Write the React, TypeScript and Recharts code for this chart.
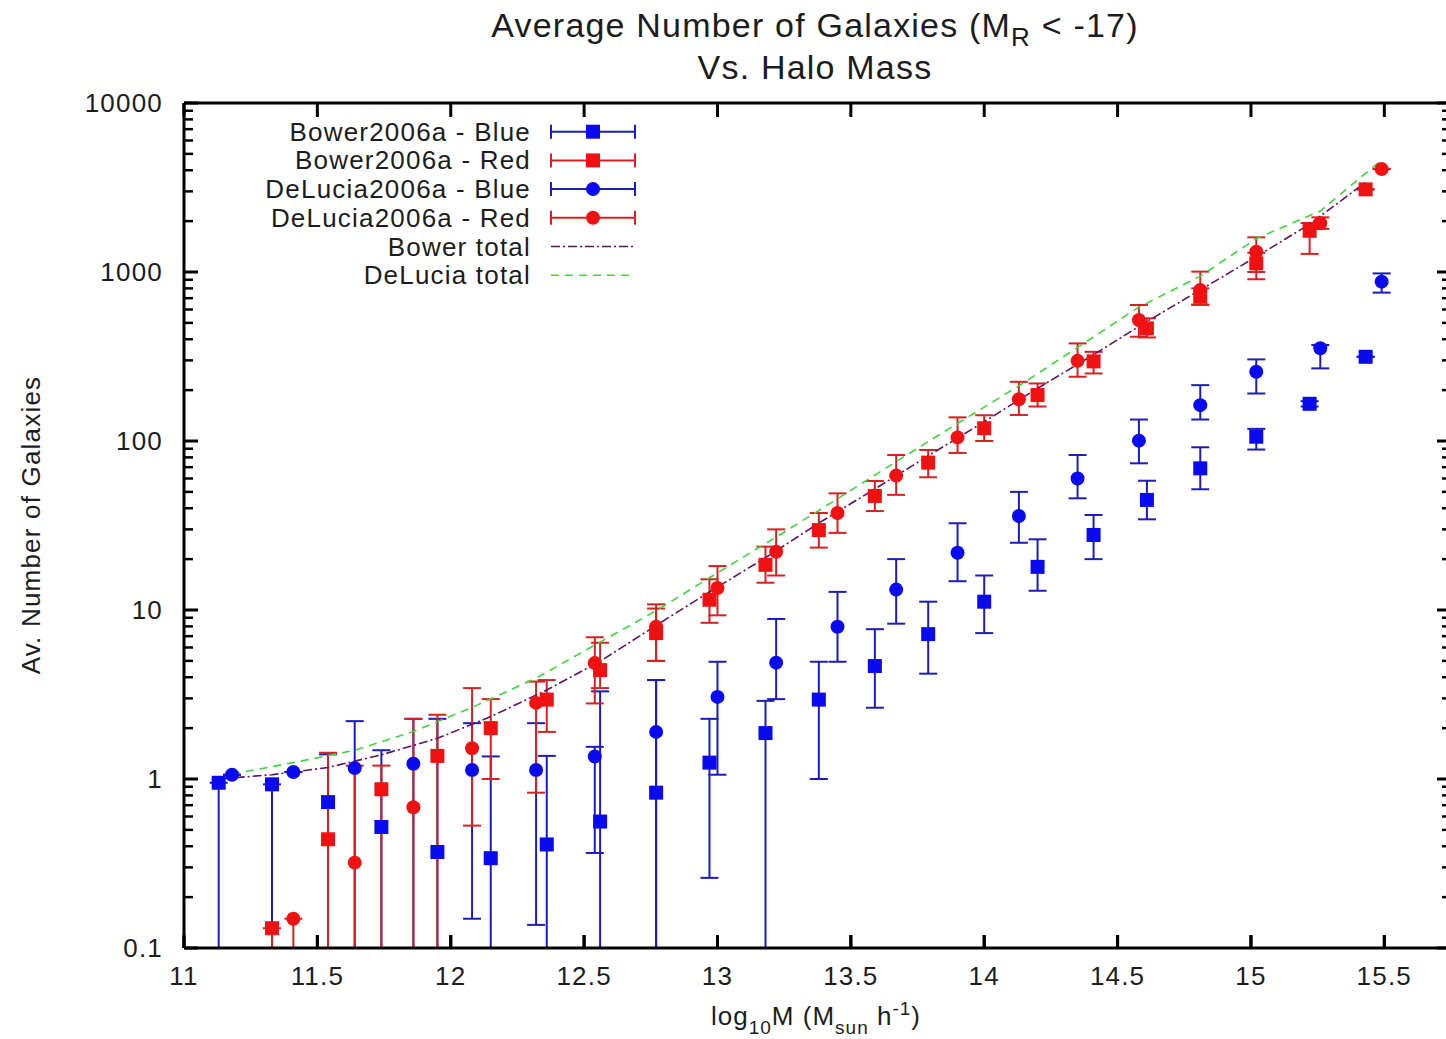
import React from 'react';
import { ComposedChart, Scatter, Line, XAxis, YAxis, ErrorBar, Legend, ReferenceLine } from 'recharts';

// halo mass bins (log10 M) for each model
const bowerX = [11.13, 11.33, 11.54, 11.74, 11.95, 12.15, 12.36, 12.56, 12.77, 12.97, 13.18, 13.38, 13.59, 13.79, 14.0, 14.2, 14.41, 14.61, 14.81, 15.02, 15.22, 15.43];
const delX = [11.18, 11.41, 11.64, 11.86, 12.08, 12.32, 12.54, 12.77, 13.0, 13.22, 13.45, 13.67, 13.9, 14.13, 14.35, 14.58, 14.81, 15.02, 15.26, 15.49];

// Bower2006a (lower ends of 0.1 run off the bottom of the plot)
const bowerBlue = [0.95, 0.93, 0.73, 0.52, 0.37, 0.34, 0.41, 0.56, 0.83, 1.25, 1.87, 2.95, 4.66, 7.2, 11.2, 18, 27.8, 44.8, 68.9, 106, 166, 315];
const bowerBlueLo = [0.1, 0.1, 0.1, 0.1, 0.1, 0.1, 0.1, 0.1, 0.1, 0.26, 0.1, 1.0, 2.64, 4.2, 7.3, 13, 20, 34.4, 51.8, 89, 160, 315];
const bowerBlueHi = [0.95, 0.93, 1.4, 1.48, 2.27, 1.36, 1.37, 3.3, 3.85, 2.27, 2.9, 4.94, 7.7, 11.2, 16, 26.2, 36.5, 58.2, 91.8, 118, 172, 315];
const bowerRed = [null, 0.131, 0.44, 0.87, 1.37, 2.0, 2.95, 4.41, 7.3, 11.5, 18.5, 29.7, 47.3, 74.5, 119, 187, 296, 464, 714, 1125, 1754, 3083];
const bowerRedLo = [null, 0.1, 0.1, 0.1, 0.1, 1.0, 1.9, 3.45, 5.0, 8.4, 14.5, 23.4, 38.5, 61, 100, 160, 251, 410, 640, 906, 1280, 3083];
const bowerRedHi = [null, 0.131, 1.43, 1.2, 2.4, 2.97, 3.85, 6.4, 10.2, 15.2, 23.7, 37.5, 58, 88.5, 142, 219, 337, 532, 800, 1300, 1950, 3083];
const bowerTotal = [1.0, 1.06, 1.17, 1.39, 1.74, 2.34, 3.36, 4.97, 8.1, 12.8, 20.4, 32.7, 52, 81.7, 130, 205, 324, 509, 783, 1231, 1920, 3398];

// DeLucia2006a
const delBlue = [1.06, 1.1, 1.16, 1.23, 1.13, 1.13, 1.36, 1.9, 3.06, 4.88, 7.96, 13.2, 21.8, 36, 60, 100.5, 163, 257, 354, 877];
const delBlueLo = [1.06, 1.1, 0.1, 0.1, 0.149, 0.137, 0.365, 0.1, 1.06, 2.97, 4.94, 8.3, 14.8, 25, 45.8, 73.8, 134, 191, 269, 755];
const delBlueHi = [1.06, 1.1, 2.2, 2.27, 2.14, 2.14, 1.55, 3.85, 4.94, 8.85, 12.8, 20, 32.6, 50, 82.6, 134, 214, 304, 370, 981];
const delRed = [null, 0.149, 0.32, 0.68, 1.52, 2.82, 4.85, 7.96, 13.5, 22.1, 37.5, 62.4, 105, 176.5, 298, 520, 782, 1318, 1942, 4064];
const delRedLo = [null, 0.1, 0.1, 0.1, 0.53, 0.83, 2.8, 5.0, 9.3, 16, 28.6, 48, 85, 142.6, 240, 414, 640, 1000, 1800, 4064];
const delRedHi = [null, 0.149, 1.2, 2.27, 3.45, 3.77, 6.9, 10.8, 18.2, 30, 49, 82.6, 138, 224, 378, 638, 1005, 1604, 2106, 4064];
const delTotal = [1.07, 1.25, 1.48, 1.91, 2.65, 3.95, 6.2, 9.9, 16.6, 27, 45.5, 75.6, 127, 212, 358, 620, 945, 1575, 2296, 4600];

const xTicks = [11, 11.5, 12, 12.5, 13, 13.5, 14, 14.5, 15, 15.5];
const yTicks = [0.1, 1, 10, 100, 1000, 10000];
const yMinor = [2, 3, 4, 5, 6, 7, 8, 9];

const seriesNames = ['Bower2006a - Blue', 'Bower2006a - Red', 'DeLucia2006a - Blue', 'DeLucia2006a - Red', 'Bower total', 'DeLucia total'];

const BLUE = '#0a0af0';
const RED = '#f01212';
const BLUE_ERR = '#1c1cb8';
const RED_ERR = '#d42222';
const PURPLE = '#5e1260';
const GREEN = '#3cd63c';
const FONT = '"Liberation Sans", Arial, sans-serif';
const TXT = '#1c1c1c';

// bottom tick marks are ~13px tall; 169px per decade on the y axis
const BOTTOM_TICK_TOP = 0.1 * Math.pow(10, 13 / 169);

function points(xs: number[], vals: (number | null)[], lo: (number | null)[], hi: (number | null)[]) {
  const out: { x: number; y: number; err: number[] }[] = [];
  xs.forEach((x, i) => {
    const v = vals[i];
    if (v == null) return;
    out.push({ x, y: v, err: [v - (lo[i] as number), (hi[i] as number) - v] });
  });
  return out;
}

const line = (xs: number[], ys: number[]) => xs.map((x, i) => ({ x, y: ys[i] }));

const allYTicks: number[] = [...yTicks];
yTicks.slice(0, -1).forEach((d) => yMinor.forEach((m) => allYTicks.push(+(d * m).toPrecision(3))));

const Square = (color: string) => (p: any) => (
  <rect x={p.cx - 7} y={p.cy - 7} width={14} height={14} fill={color} />
);
const Dot = (color: string) => (p: any) => <circle cx={p.cx} cy={p.cy} r={7} fill={color} />;

const labelStyle = { fontFamily: FONT, fontSize: 26, letterSpacing: 1.2 };

// gnuplot-style tick marks pointing into the plot (major 14px, minor 9px)
const tickMark = (side: 'left' | 'right' | 'top') => (p: any) => {
  const { x, y, payload } = p;
  const major = side === 'top' || yTicks.includes(payload.value);
  const len = major ? 14 : 9;
  const w = major ? 3 : 2.5;
  if (side === 'left') return <line x1={x} x2={x + len} y1={y} y2={y} stroke="#000" strokeWidth={w} />;
  if (side === 'right') return <line x1={x} x2={x - len} y1={y} y2={y} stroke="#000" strokeWidth={w} />;
  return <line x1={x} x2={x} y1={y} y2={y + len} stroke="#000" strokeWidth={w} />;
};

const yLabel = (p: any) => (
  <text x={p.x - 20} y={p.y} textAnchor="end" dominantBaseline="central" fill={TXT} style={labelStyle}>{p.payload.value}</text>
);
const xLabel = (p: any) => (
  <g>
    <line x1={p.x} x2={p.x} y1={p.y - 1} y2={p.y - 14} stroke="#000" strokeWidth={3} />
    <text x={p.x} y={p.y + 27} textAnchor="middle" dominantBaseline="central" fill={TXT} style={labelStyle}>{p.payload.value}</text>
  </g>
);

function LegendBox() {
  const rows = [
    { kind: 'sq', c: BLUE, e: BLUE_ERR },
    { kind: 'sq', c: RED, e: RED_ERR },
    { kind: 'ci', c: BLUE, e: BLUE_ERR },
    { kind: 'ci', c: RED, e: RED_ERR },
    { kind: 'dashdot', c: PURPLE, e: PURPLE },
    { kind: 'dash', c: GREEN, e: GREEN },
  ];
  return (
    <svg width={440} height={180} style={{ display: 'block' }}>
      {rows.map((r, i) => {
        const y = 21.7 + i * 28.7;
        return (
          <g key={i}>
            <text x={331} y={y} textAnchor="end" dominantBaseline="central" fill={TXT} style={labelStyle}>
              {seriesNames[i]}
            </text>
            {i < 4 ? (
              <g stroke={r.e} strokeWidth={2}>
                <line x1={351} x2={435} y1={y} y2={y} />
                <line x1={351} x2={351} y1={y - 7} y2={y + 7} />
                <line x1={435} x2={435} y1={y - 7} y2={y + 7} />
                {r.kind === 'sq'
                  ? <rect x={386} y={y - 7} width={14} height={14} fill={r.c} stroke="none" />
                  : <circle cx={393} cy={y} r={7} fill={r.c} stroke="none" />}
              </g>
            ) : (
              <line x1={351} x2={435} y1={y} y2={y} stroke={r.c} strokeWidth={1.6}
                strokeDasharray={r.kind === 'dash' ? '8 6' : '9 3 2 3'} />
            )}
          </g>
        );
      })}
    </svg>
  );
}

export default function App() {
  const axisStyle = { stroke: '#000', strokeWidth: 3 };
  const xDomain = [11, 15.75];
  const yDomain = [0.1, 10000];
  return (
    <div style={{ position: 'absolute', left: 0, top: 0, width: 1446, height: 1039, overflow: 'hidden', background: '#fff' }}>
      <div style={{ position: 'absolute', left: 415, top: 6, width: 800, textAlign: 'center', fontFamily: FONT, fontSize: 34, letterSpacing: 1.2, color: TXT, lineHeight: '39px' }}>
        Average Number of Galaxies (M<span style={{ fontSize: 26, position: 'relative', top: 9 }}>R</span> &lt; -17)
        <br />
        Vs. Halo Mass
      </div>
      <div style={{ position: 'absolute', left: 31, top: 525, transform: 'translate(-50%, -50%) rotate(-90deg)', whiteSpace: 'nowrap', fontFamily: FONT, fontSize: 26, letterSpacing: 1.2, color: TXT }}>
        Av. Number of Galaxies
      </div>
      <div style={{ position: 'absolute', left: 516, top: 1001, width: 600, textAlign: 'center', fontFamily: FONT, fontSize: 26, letterSpacing: 1, color: TXT, whiteSpace: 'nowrap' }}>
        log<span style={{ fontSize: 19, position: 'relative', top: 9 }}>10</span>M (M<span style={{ fontSize: 19, position: 'relative', top: 9 }}>sun</span> h<span style={{ fontSize: 19, position: 'relative', top: -10 }}>-1</span>)
      </div>
      <ComposedChart width={1470} height={1039} margin={{ top: 102, right: 18, bottom: 30, left: 83 }}>
        {/* frame and tick marks */}
        <XAxis xAxisId={0} type="number" dataKey="x" domain={xDomain} allowDataOverflow ticks={xTicks}
          interval={0} height={1} tickSize={0} tickMargin={0} axisLine={axisStyle} tickLine={false} tick={false} />
        <XAxis xAxisId={2} orientation="top" type="number" dataKey="x" domain={xDomain} allowDataOverflow ticks={xTicks}
          interval={0} height={1} tickSize={0} tickMargin={0} axisLine={axisStyle} tickLine={false} tick={tickMark('top')} />
        <YAxis yAxisId={0} dataKey="y" scale="log" domain={yDomain} allowDataOverflow ticks={allYTicks}
          interval={0} width={1} tickSize={0} tickMargin={0} axisLine={axisStyle} tickLine={false} tick={tickMark('left')} />
        <YAxis yAxisId={2} orientation="right" scale="log" domain={yDomain} allowDataOverflow ticks={allYTicks}
          interval={0} width={1} tickSize={0} tickMargin={0} axisLine={axisStyle} tickLine={false} tick={tickMark('right')} />
        {/* tick labels */}
        <XAxis xAxisId={1} type="number" dataKey="x" domain={xDomain} allowDataOverflow ticks={xTicks}
          interval={0} height={60} tickSize={0} tickMargin={0} axisLine={false} tickLine={false} tick={xLabel} />
        <YAxis yAxisId={1} scale="log" domain={yDomain} allowDataOverflow ticks={yTicks}
          interval={0} width={100} tickSize={0} tickMargin={0} axisLine={false} tickLine={false} tick={yLabel} />

        {xTicks.map((t) => (
          <ReferenceLine key={t} ifOverflow="visible" segment={[{ x: t, y: 0.1 }, { x: t, y: BOTTOM_TICK_TOP }]}
            stroke="#000" strokeWidth={3} />
        ))}

        <Scatter name={seriesNames[0]} data={points(bowerX, bowerBlue, bowerBlueLo, bowerBlueHi)} dataKey="y"
          shape={Square(BLUE)} isAnimationActive={false}>
          <ErrorBar dataKey="err" direction="y" width={9} stroke={BLUE_ERR} strokeWidth={2} />
        </Scatter>
        <Scatter name={seriesNames[1]} data={points(bowerX, bowerRed, bowerRedLo, bowerRedHi)} dataKey="y"
          shape={Square(RED)} isAnimationActive={false}>
          <ErrorBar dataKey="err" direction="y" width={9} stroke={RED_ERR} strokeWidth={2} />
        </Scatter>
        <Scatter name={seriesNames[2]} data={points(delX, delBlue, delBlueLo, delBlueHi)} dataKey="y"
          shape={Dot(BLUE)} isAnimationActive={false}>
          <ErrorBar dataKey="err" direction="y" width={9} stroke={BLUE_ERR} strokeWidth={2} />
        </Scatter>
        <Scatter name={seriesNames[3]} data={points(delX, delRed, delRedLo, delRedHi)} dataKey="y"
          shape={Dot(RED)} isAnimationActive={false}>
          <ErrorBar dataKey="err" direction="y" width={9} stroke={RED_ERR} strokeWidth={2} />
        </Scatter>
        <Line name={seriesNames[4]} data={line(bowerX, bowerTotal)} dataKey="y" type="linear" stroke={PURPLE}
          strokeWidth={1.6} strokeDasharray="9 3 2 3" dot={false} activeDot={false} isAnimationActive={false} />
        <Line name={seriesNames[5]} data={line(delX, delTotal)} dataKey="y" type="linear" stroke={GREEN}
          strokeWidth={1.6} strokeDasharray="8 6" dot={false} activeDot={false} isAnimationActive={false} />

        <Legend layout="vertical" align="center" verticalAlign="middle" content={<LegendBox />}
          wrapperStyle={{ position: 'absolute', left: 200, top: 110, width: 440, height: 180 }} />
      </ComposedChart>
    </div>
  );
}
